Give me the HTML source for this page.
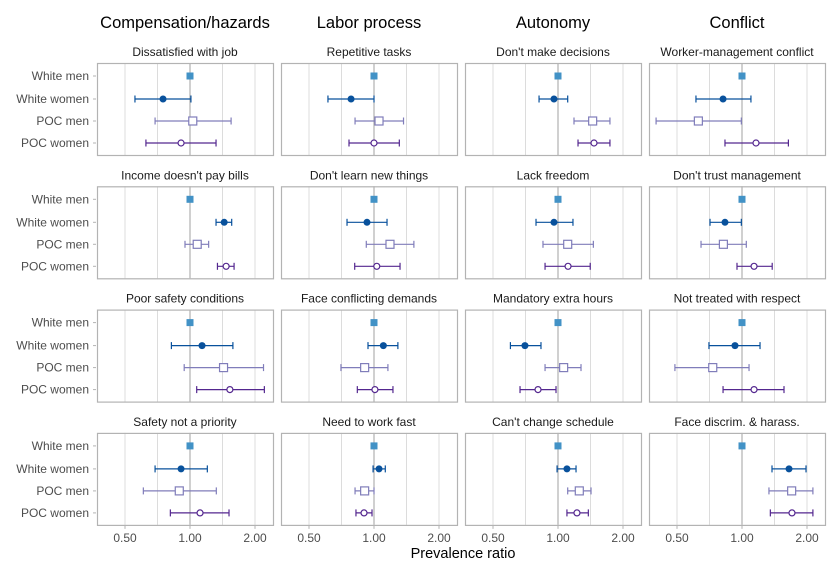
<!DOCTYPE html>
<html><head><meta charset="utf-8"><style>
body{margin:0;background:#fff;}
svg{display:block;font-family:"Liberation Sans",Arial,sans-serif;}
</style></head><body>
<svg id="chart" width="840" height="576" viewBox="0 0 840 576"></svg>
<script>
const columnHeaders=["Compensation/hazards","Labor process","Autonomy","Conflict"];
const panelTitles=[
["Dissatisfied with job","Repetitive tasks","Don't make decisions","Worker-management conflict"],
["Income doesn't pay bills","Don't learn new things","Lack freedom","Don't trust management"],
["Poor safety conditions","Face conflicting demands","Mandatory extra hours","Not treated with respect"],
["Safety not a priority","Need to work fast","Can't change schedule","Face discrim. & harass."]];
const groups=["White men","White women","POC men","POC women"];
const tickValues=[0.5,1,2];
const tickLabels=["0.50","1.00","2.00"];
const gridValues=[0.5,0.7071,1.4142,2];
// [row][col] -> [WW, PM, PW] each [lo, est, hi]; White men reference = 1
const estimates=[
[[[0.556,0.750,1.01],[0.689,1.03,1.55],[0.625,0.909,1.32]],
 [[0.612,0.783,1.0],[0.817,1.055,1.37],[0.766,1.0,1.31]],
 [[0.817,0.958,1.109],[1.186,1.447,1.74],[1.238,1.468,1.74]],
 [[0.612,0.817,1.10],[0.40,0.628,0.993],[0.834,1.161,1.64]]],
[[[1.32,1.44,1.56],[0.948,1.08,1.22],[1.34,1.47,1.60]],
 [[0.75,0.928,1.149],[0.921,1.186,1.53],[0.814,1.03,1.32]],
 [[0.791,0.958,1.173],[0.852,1.109,1.458],[0.871,1.113,1.41]],
 [[0.711,0.834,0.993],[0.646,0.82,1.047],[0.948,1.137,1.38]]],
[[[0.82,1.137,1.58],[0.94,1.43,2.19],[1.074,1.53,2.21]],
 [[0.938,1.105,1.29],[0.703,0.905,1.16],[0.837,1.01,1.224]],
 [[0.602,0.703,0.834],[0.871,1.062,1.278],[0.667,0.808,0.979]],
 [[0.703,0.928,1.212],[0.489,0.732,1.078],[0.817,1.137,1.565]]],
[[[0.689,0.909,1.203],[0.608,0.892,1.324],[0.811,1.113,1.516]],
 [[0.99,1.055,1.128],[0.817,0.905,1.0],[0.825,0.899,0.979]],
 [[0.99,1.1,1.212],[1.109,1.255,1.422],[1.1,1.224,1.382]],
 [[1.377,1.651,1.979],[1.333,1.698,2.13],[1.353,1.704,2.13]]]];

const NS="http://www.w3.org/2000/svg";
const svg=document.getElementById('chart');
function mk(tag,attrs,parent,text){const e=document.createElementNS(NS,tag);for(const k in attrs)e.setAttribute(k,attrs[k]);if(text!==undefined)e.textContent=text;(parent||svg).appendChild(e);return e;}
const PX0=97,PW=176,PY0=63,PH=92,DX=184,DY=123.3,UNIT=65,OFF=93;
const rowOff=[13,36,58,80];
function xs(c,v){return PX0+DX*c+OFF+UNIT*Math.log2(v);}
function ys(r,g){return PY0+DY*r+rowOff[g];}
const colors=["#4292c6","#08519c","#807dba","#54278f"];

columnHeaders.forEach((h,c)=>{
  const t=mk('text',{x:PX0+DX*c+PW/2,y:28,'text-anchor':'middle','font-size':16.5,fill:'#000'},svg,h);
  
  
});

for(let r=0;r<4;r++){
  groups.forEach((g,gi)=>{
    const y=ys(r,gi);
    const t=mk('text',{x:89,y:y+4,'text-anchor':'end','font-size':12,fill:'#4d4d4d'},svg,g);
    
    
    mk('line',{x1:93,x2:96,y1:y,y2:y,stroke:'#b3b3b3'});
  });
  for(let c=0;c<4;c++){
    const x0=PX0+DX*c,y0=PY0+DY*r;
    const grp=mk('g',{});
    
    
    const tt=mk('text',{x:x0+PW/2,y:y0-7,'text-anchor':'middle','font-size':12,fill:'#1a1a1a'},grp,panelTitles[r][c]);
    
    
    gridValues.forEach(v=>mk('line',{x1:xs(c,v),x2:xs(c,v),y1:y0,y2:y0+PH,stroke:'#dcdcdc','stroke-width':1},grp));
    mk('line',{x1:xs(c,1),x2:xs(c,1),y1:y0,y2:y0+PH,stroke:'#a0a0a0','stroke-width':1},grp);
    mk('rect',{x:x0+0.5,y:y0+0.5,width:PW,height:PH,fill:'none',stroke:'#b3b3b3','stroke-width':1.2},grp);
    // reference
    const yr=ys(r,0);
    const ref=mk('rect',{x:xs(c,1)-3.5,y:yr-3.5,width:7,height:7,fill:colors[0]},grp);
    
    
    estimates[r][c].forEach((e,k)=>{
      const gi=k+1,y=ys(r,gi),col=colors[gi];
      const a=xs(c,e[0]),m=xs(c,e[1]),b=xs(c,e[2]);
      const bar=mk('line',{x1:a,x2:b,y1:y,y2:y,stroke:col,'stroke-width':1.2},grp);
      
      
      mk('line',{x1:a,x2:a,y1:y-3.5,y2:y+3.5,stroke:col,'stroke-width':1.2},grp);
      mk('line',{x1:b,x2:b,y1:y-3.5,y2:y+3.5,stroke:col,'stroke-width':1.2},grp);
      let p;
      if(gi===1)p=mk('circle',{cx:m,cy:y,r:3.5,fill:col},grp);
      else if(gi===2)p=mk('rect',{x:m-4,y:y-4,width:8,height:8,fill:'#fff',stroke:col,'stroke-width':1.2},grp);
      else p=mk('circle',{cx:m,cy:y,r:3,fill:'#fff',stroke:col,'stroke-width':1.2},grp);
      
      
    });
  }
}
for(let c=0;c<4;c++){
  const yb=PY0+DY*3+PH;
  tickValues.forEach((v,i)=>{
    mk('line',{x1:xs(c,v),x2:xs(c,v),y1:yb+1,y2:yb+4,stroke:'#b3b3b3'});
    const t=mk('text',{x:xs(c,v),y:yb+17,'text-anchor':'middle','font-size':12,fill:'#4d4d4d'},svg,tickLabels[i]);
    
    
  });
}
const xt=mk('text',{x:463,y:558,'text-anchor':'middle','font-size':14.5,fill:'#000'},svg,'Prevalence ratio');


</script>
</body></html>
